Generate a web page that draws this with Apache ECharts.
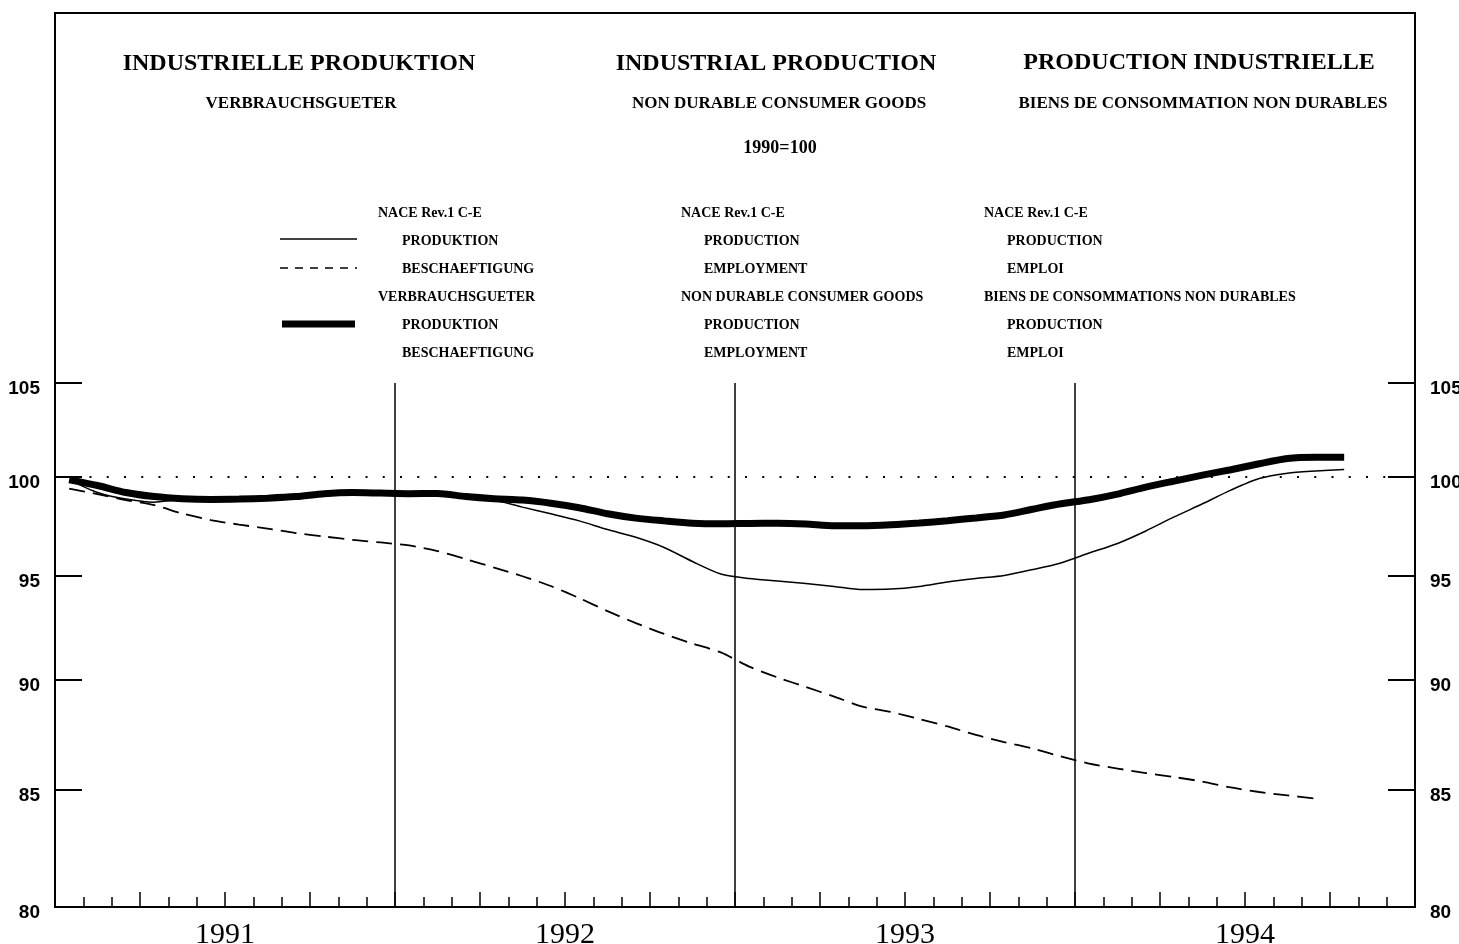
<!DOCTYPE html>
<html>
<head>
<meta charset="utf-8">
<script src="https://cdn.jsdelivr.net/npm/echarts@6/dist/echarts.min.js"></script>
<style>
html,body{margin:0;padding:0;background:#fff;}
#chart{width:1459px;height:944px;}
</style>
</head>
<body>
<div id="chart"></div>
<script>
// ---- data (monthly, 1991-01 .. 1994-10) ----
const months = ['1991-01','1991-02','1991-03','1991-04','1991-05','1991-06','1991-07','1991-08','1991-09','1991-10','1991-11','1991-12',
'1992-01','1992-02','1992-03','1992-04','1992-05','1992-06','1992-07','1992-08','1992-09','1992-10','1992-11','1992-12',
'1993-01','1993-02','1993-03','1993-04','1993-05','1993-06','1993-07','1993-08','1993-09','1993-10','1993-11','1993-12',
'1994-01','1994-02','1994-03','1994-04','1994-05','1994-06','1994-07','1994-08','1994-09','1994-10'];
const ngProduction = [99.85,99.56,99.2,98.99,98.88,98.84,98.86,98.91,98.99,99.14,99.2,99.17,
99.14,99.15,98.99,98.88,98.81,98.65,98.42,98.11,97.89,97.75,97.63,97.6,
97.62,97.63,97.59,97.5,97.5,97.55,97.64,97.76,97.9,98.05,98.34,98.62,
98.83,99.12,99.48,99.79,100.1,100.38,100.69,100.97,101.03,101.03];
const naceProduction = [99.85,99.2,98.86,98.7,98.84,98.82,98.85,98.9,98.98,99.11,99.2,99.17,
99.2,99.21,98.96,98.81,98.45,98.11,97.75,97.31,96.92,96.41,95.71,95.09,
94.87,94.75,94.62,94.48,94.33,94.35,94.48,94.7,94.87,95.02,95.31,95.64,
96.13,96.61,97.24,97.95,98.62,99.32,99.92,100.2,100.31,100.39];
const naceEmployment = [99.4,99.12,98.81,98.55,98.12,97.79,97.56,97.36,97.13,96.96,96.79,96.66,
96.51,96.23,95.83,95.41,94.98,94.5,93.91,93.28,92.7,92.18,91.72,91.3,
90.63,90.12,89.68,89.23,88.77,88.52,88.2,87.86,87.47,87.15,86.86,86.5,
86.18,85.96,85.76,85.58,85.38,85.12,84.92,84.77,84.63];
const years = ['1991','1992','1993','1994'];
const yTicks = [80,85,90,95,100,105];
const baseValue = 100;

// ---- helpers ----
function monthPos(label){ const p = label.split('-'); return (Number(p[0]) - Number(years[0]))*12 + (Number(p[1]) - 1) + 0.5; }
function pairs(vals){ return vals.map((v,i)=>[monthPos(months[i]), v]); }
const yearLabelMap = {};
years.forEach((y,i)=>{ yearLabelMap[i*12+6] = y; });

const chart = echarts.init(document.getElementById('chart'), null, {renderer:'canvas'});
const black = '#000';
const LEGF = 'bold 14px "Liberation Serif", serif';
function txt(x,y,text,font,align){
  return {type:'text', x:x, y:y, silent:true,
    style:{text:text, font:font, fill:black, align:align||'left', verticalAlign:'middle', textAlign:align||'left', textVerticalAlign:'middle'}};
}
function seg(x1,y1,x2,y2,w,dash){
  return {type:'line', silent:true, shape:{x1:x1,y1:y1,x2:x2,y2:y2}, style:{stroke:black, lineWidth:w, lineDash:dash||null}};
}
const TF = 'bold 24px "Liberation Serif", serif';
const SF = 'bold 17px "Liberation Serif", serif';

const graphics = [
  {type:'rect', silent:true, shape:{x:55,y:13,width:1360,height:894}, style:{fill:null, stroke:black, lineWidth:2}},
  txt(299,64,'INDUSTRIELLE PRODUKTION',TF,'center'),
  txt(776,64,'INDUSTRIAL PRODUCTION',TF,'center'),
  txt(1199,63,'PRODUCTION INDUSTRIELLE',TF,'center'),
  txt(301,104,'VERBRAUCHSGUETER',SF,'center'),
  txt(779,104,'NON DURABLE CONSUMER GOODS',SF,'center'),
  txt(1203,104,'BIENS DE CONSOMMATION NON DURABLES',SF,'center'),
  txt(780,148,'1990=100','bold 18px "Liberation Serif", serif','center'),
  // legend samples
  seg(280,239,357,239,1.5),
  seg(280,268,357,268,1.5,[8,7]),
  seg(282,324,355,324,7),
  // legend texts col 1
  txt(378,213,'NACE Rev.1 C-E',LEGF), txt(402,241,'PRODUKTION',LEGF), txt(402,269,'BESCHAEFTIGUNG',LEGF),
  txt(378,297,'VERBRAUCHSGUETER',LEGF), txt(402,325,'PRODUKTION',LEGF), txt(402,353,'BESCHAEFTIGUNG',LEGF),
  // col 2
  txt(681,213,'NACE Rev.1 C-E',LEGF), txt(704,241,'PRODUCTION',LEGF), txt(704,269,'EMPLOYMENT',LEGF),
  txt(681,297,'NON DURABLE CONSUMER GOODS',LEGF), txt(704,325,'PRODUCTION',LEGF), txt(704,353,'EMPLOYMENT',LEGF),
  // col 3
  txt(984,213,'NACE Rev.1 C-E',LEGF), txt(1007,241,'PRODUCTION',LEGF), txt(1007,269,'EMPLOI',LEGF),
  txt(984,297,'BIENS DE CONSOMMATIONS NON DURABLES',LEGF), txt(1007,325,'PRODUCTION',LEGF), txt(1007,353,'EMPLOI',LEGF)
];

const yAxisCommon = {
  type:'log', logBase:10, min:yTicks[0], max:yTicks[yTicks.length-1],
  axisLine:{show:true, onZero:false, lineStyle:{color:black, width:2}},
  axisTick:{show:true, inside:true, length:27, lineStyle:{color:black, width:2}, customValues:yTicks},
  axisLabel:{show:true, customValues:yTicks, color:black, fontFamily:'"Liberation Sans", Arial, sans-serif', fontWeight:'bold', fontSize:19, margin:15, verticalAlign:'top', lineHeight:12},
  splitLine:{show:false}, minorTick:{show:false}, minorSplitLine:{show:false}
};

const option = {
  backgroundColor:'#fff',
  animation:false,
  grid:{left:55, right:44, top:383, bottom:37, containLabel:false, outerBoundsMode:'none'},
  xAxis:[
    {type:'value', min:0, max:48, interval:3, position:'bottom',
     axisLine:{show:true, onZero:false, lineStyle:{color:black, width:2}},
     axisTick:{show:true, inside:true, length:15, lineStyle:{color:black, width:1.5}},
     minorTick:{show:true, splitNumber:3, length:10, lineStyle:{color:black, width:1.5}},
     axisLabel:{show:true, margin:13, color:black, fontFamily:'"Liberation Serif", "Times New Roman", serif', fontSize:30,
       formatter:(v)=> yearLabelMap[v] || ''},
     splitLine:{show:false}},
    {type:'value', min:0, max:48, interval:12, position:'top',
     axisLine:{show:false, onZero:false}, axisTick:{show:false}, axisLabel:{show:false},
     splitLine:{show:true, lineStyle:{color:black, width:1.5}}}
  ],
  yAxis:[
    Object.assign({}, yAxisCommon, {position:'left'}),
    Object.assign({}, yAxisCommon, {position:'right'})
  ],
  graphic:graphics,
  series:[
    {name:'VERBRAUCHSGUETER PRODUKTION', type:'line', xAxisIndex:0, yAxisIndex:0, data:pairs(ngProduction),
     showSymbol:false, smooth:0.25, lineStyle:{color:black, width:7}, itemStyle:{color:black}, z:3,
     markLine:{silent:true, symbol:['none','none'], label:{show:false},
       lineStyle:{color:black, width:2, type:[2,15.25]}, data:[{yAxis:baseValue}]}},
    {name:'NACE Rev.1 C-E PRODUKTION', type:'line', xAxisIndex:0, yAxisIndex:0, data:pairs(naceProduction),
     showSymbol:false, smooth:0.25, lineStyle:{color:black, width:1.5}, itemStyle:{color:black}, z:4},
    {name:'NACE Rev.1 C-E BESCHAEFTIGUNG', type:'line', xAxisIndex:0, yAxisIndex:0, data:pairs(naceEmployment),
     showSymbol:false, smooth:0.25, lineStyle:{color:black, width:1.8, type:[16,8]}, itemStyle:{color:black}, z:4}
  ]
};
chart.setOption(option);
</script>
</body>
</html>
